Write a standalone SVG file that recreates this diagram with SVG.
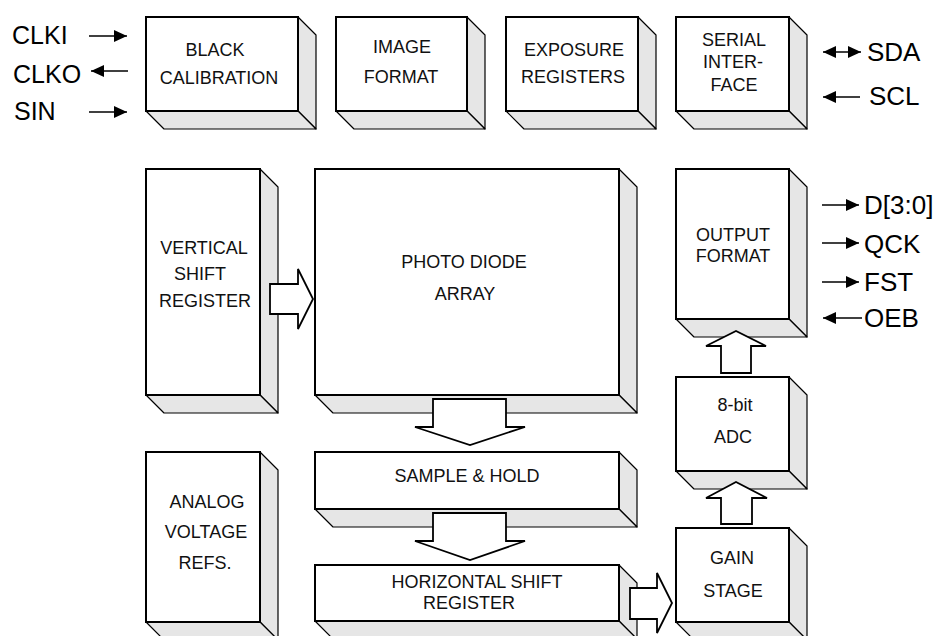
<svg xmlns="http://www.w3.org/2000/svg" width="945" height="636" viewBox="0 0 945 636">
<defs>
<style>
.front{fill:#fff;stroke:#000;stroke-width:2}
.side{fill:#e6e6e6;stroke:#000;stroke-width:1.2;stroke-linejoin:round}
.barrow{fill:#fff;stroke:#000;stroke-width:1.8;stroke-linejoin:miter}
.t{font-family:"Liberation Sans",Arial,sans-serif;font-size:18px;fill:#111;text-anchor:middle}
.lbl{font-family:"Liberation Sans",Arial,sans-serif;font-size:25px;fill:#000}
.lblr{font-family:"Liberation Sans",Arial,sans-serif;font-size:26px;fill:#000}
.sig{stroke:#000;stroke-width:1.6;fill:none}
</style>
<marker id="ah" markerUnits="userSpaceOnUse" markerWidth="14" markerHeight="13" refX="13" refY="6.5" orient="auto-start-reverse" viewBox="0 0 14 13">
<path d="M0,0.5 L13,6.5 L0,12.5 Z" fill="#000"/>
</marker>
</defs>
<rect width="945" height="636" fill="#fff"/>

<g id="black-calibration">
<path class="side" d="M298,17 L316,35 L316,129 L298,111 Z"/>
<path class="side" d="M146,111 L164,129 L316,129 L298,111 Z"/>
<rect class="front" x="146" y="17" width="152" height="94"/>
<text class="t" x="215" y="56">BLACK</text>
<text class="t" x="219" y="84">CALIBRATION</text>
</g>

<g id="image-format">
<path class="side" d="M467,17 L485,35 L485,129 L467,111 Z"/>
<path class="side" d="M336,111 L354,129 L485,129 L467,111 Z"/>
<rect class="front" x="336" y="17" width="131" height="94"/>
<text class="t" x="402" y="53">IMAGE</text>
<text class="t" x="401" y="83">FORMAT</text>
</g>

<g id="exposure-registers">
<path class="side" d="M638,17 L656,35 L656,129 L638,111 Z"/>
<path class="side" d="M506,111 L524,129 L656,129 L638,111 Z"/>
<rect class="front" x="506" y="17" width="132" height="94"/>
<text class="t" x="574" y="56">EXPOSURE</text>
<text class="t" x="573" y="83">REGISTERS</text>
</g>

<g id="serial-interface">
<path class="side" d="M789,17 L807,35 L807,129 L789,111 Z"/>
<path class="side" d="M676,111 L694,129 L807,129 L789,111 Z"/>
<rect class="front" x="676" y="17" width="113" height="94"/>
<text class="t" x="734" y="46">SERIAL</text>
<text class="t" x="733" y="68">INTER-</text>
<text class="t" x="734" y="91">FACE</text>
</g>

<g id="vertical-shift-register">
<path class="side" d="M260,169 L278,187 L278,413 L260,395 Z"/>
<path class="side" d="M146,395 L164,413 L278,413 L260,395 Z"/>
<rect class="front" x="146" y="169" width="114" height="226"/>
<text class="t" x="204" y="254">VERTICAL</text>
<text class="t" x="200" y="280">SHIFT</text>
<text class="t" x="205" y="307">REGISTER</text>
</g>

<g id="photo-diode-array">
<path class="side" d="M619,169 L637,187 L637,413 L619,395 Z"/>
<path class="side" d="M315,395 L333,413 L637,413 L619,395 Z"/>
<rect class="front" x="315" y="169" width="304" height="226"/>
<text class="t" x="464" y="268">PHOTO DIODE</text>
<text class="t" x="465" y="300">ARRAY</text>
</g>

<g id="output-format">
<path class="side" d="M789,169 L807,187 L807,337 L789,319 Z"/>
<path class="side" d="M676,319 L694,337 L807,337 L789,319 Z"/>
<rect class="front" x="676" y="169" width="113" height="150"/>
<text class="t" x="733" y="241">OUTPUT</text>
<text class="t" x="733" y="262">FORMAT</text>
</g>

<g id="adc">
<path class="side" d="M789,377 L807,395 L807,489 L789,471 Z"/>
<path class="side" d="M676,471 L694,489 L807,489 L789,471 Z"/>
<rect class="front" x="676" y="377" width="113" height="94"/>
<text class="t" x="735" y="411">8-bit</text>
<text class="t" x="733" y="443">ADC</text>
</g>

<g id="analog-voltage-refs">
<path class="side" d="M260,452 L278,470 L278,640 L260,622 Z"/>
<path class="side" d="M146,622 L164,640 L278,640 L260,622 Z"/>
<rect class="front" x="146" y="452" width="114" height="170"/>
<text class="t" x="207" y="508">ANALOG</text>
<text class="t" x="206" y="538">VOLTAGE</text>
<text class="t" x="205" y="569">REFS.</text>
</g>

<g id="sample-hold">
<path class="side" d="M619,452 L637,470 L637,527 L619,509 Z"/>
<path class="side" d="M315,509 L333,527 L637,527 L619,509 Z"/>
<rect class="front" x="315" y="452" width="304" height="57"/>
<text class="t" x="467" y="482">SAMPLE &amp; HOLD</text>
</g>

<g id="horizontal-shift-register">
<path class="side" d="M619,565 L637,583 L637,639 L619,621 Z"/>
<path class="side" d="M315,621 L333,639 L637,639 L619,621 Z"/>
<rect class="front" x="315" y="565" width="304" height="56"/>
<text class="t" x="477" y="588">HORIZONTAL SHIFT</text>
<text class="t" x="469" y="609">REGISTER</text>
</g>

<g id="gain-stage">
<path class="side" d="M789,528 L807,546 L807,640 L789,622 Z"/>
<path class="side" d="M676,622 L694,640 L807,640 L789,622 Z"/>
<rect class="front" x="676" y="528" width="113" height="94"/>
<text class="t" x="732" y="564">GAIN</text>
<text class="t" x="733" y="597">STAGE</text>
</g>

<g id="connectors">
<polygon class="barrow" points="270,284 298,284 298,269 313,299 298,329 298,314 270,314"/>
<polygon class="barrow" points="433,399 506,399 506,427 525,427 470,445 415,427 433,427"/>
<polygon class="barrow" points="433,513 506,513 506,541 525,541 470,560 415,541 433,541"/>
<polygon class="barrow" points="630,588 657,588 657,573 672,603 657,633 657,619 630,619"/>
<polygon class="barrow" points="721,524 752,524 752,498 767,498 736,482 706,498 721,498"/>
<polygon class="barrow" points="721,373 751,373 751,346 766,346 736,331 706,346 721,346"/>
<line class="sig" x1="89" y1="36" x2="127" y2="36" marker-end="url(#ah)"/>
<line class="sig" x1="128" y1="71" x2="91" y2="71" marker-end="url(#ah)"/>
<line class="sig" x1="89" y1="112" x2="127" y2="112" marker-end="url(#ah)"/>
<line class="sig" x1="823" y1="52" x2="861" y2="52" marker-start="url(#ah)" marker-end="url(#ah)"/>
<line class="sig" x1="860" y1="97" x2="823" y2="97" marker-end="url(#ah)"/>
<line class="sig" x1="822" y1="205" x2="859" y2="205" marker-end="url(#ah)"/>
<line class="sig" x1="822" y1="243" x2="859" y2="243" marker-end="url(#ah)"/>
<line class="sig" x1="822" y1="282" x2="859" y2="282" marker-end="url(#ah)"/>
<line class="sig" x1="862" y1="318" x2="823" y2="318" marker-end="url(#ah)"/>
</g>

<g id="labels">
<text class="lbl" x="12" y="44">CLKI</text>
<text class="lbl" x="13" y="83">CLKO</text>
<text class="lbl" x="14" y="120">SIN</text>
<text class="lblr" x="867" y="61">SDA</text>
<text class="lblr" x="869" y="105">SCL</text>
<text class="lblr" x="864" y="214">D[3:0]</text>
<text class="lblr" x="864" y="253">QCK</text>
<text class="lblr" x="864" y="291">FST</text>
<text class="lblr" x="864" y="327">OEB</text>
</g>
</svg>
